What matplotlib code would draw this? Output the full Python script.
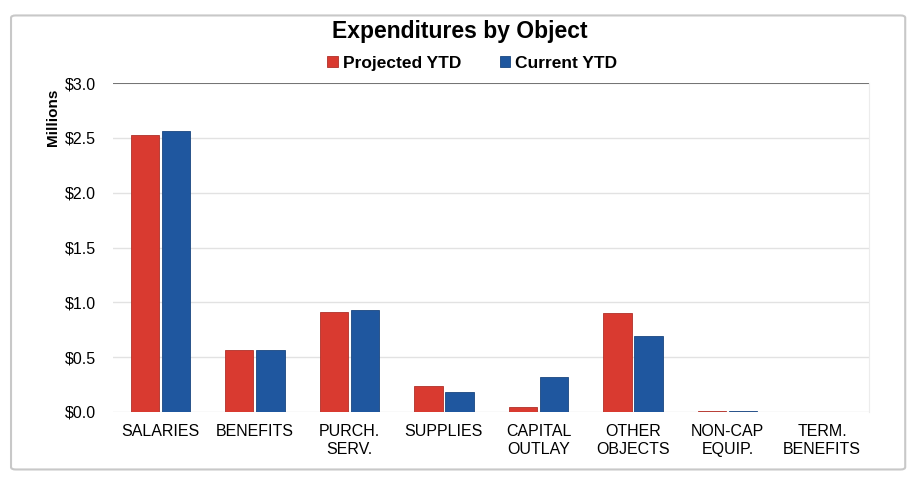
import numpy as np
import matplotlib.pyplot as plt
from matplotlib.patches import FancyBboxPatch

plt.rcParams['font.family'] = ['Liberation Sans', 'DejaVu Sans']

categories = ['SALARIES', 'BENEFITS', 'PURCH.\nSERV.', 'SUPPLIES', 'CAPITAL\nOUTLAY',
              'OTHER\nOBJECTS', 'NON-CAP\nEQUIP.', 'TERM.\nBENEFITS']
projected = [2.53, 0.565, 0.91, 0.24, 0.05, 0.90, 0.008, 0.0]
current = [2.56, 0.565, 0.93, 0.18, 0.32, 0.69, 0.006, 0.0]
yticks = [0.0, 0.5, 1.0, 1.5, 2.0, 2.5, 3.0]

red = '#d93a30'
blue = '#1f579f'

fig = plt.figure(figsize=(9.19, 4.83), dpi=100)
ax = fig.add_axes([0.123, 0.147, 0.823, 0.681])

# outer chart frame
frame = FancyBboxPatch((0.012, 0.028), 0.973, 0.94, boxstyle='round,pad=0,rounding_size=0.005',
                       transform=fig.transFigure, fill=False, edgecolor='#c8c8c8', lw=1.5)
fig.patches.append(frame)

x = np.arange(len(categories))
width = 0.3
ax.bar(x - 0.165, projected, width, color=red, edgecolor='#b03028', lw=0.6,
       label='Projected YTD', zorder=3)
ax.bar(x + 0.165, current, width, color=blue, edgecolor='#1a4680', lw=0.6,
       label='Current YTD', zorder=3)

ax.set_xlim(-0.5, len(categories) - 0.5)
ax.set_ylim(0, 3.0)
ax.set_yticks(yticks)
ax.set_yticklabels(['$%.1f' % v for v in yticks], fontsize=11.5)
ax.set_xticks(x)
ax.set_xticklabels(categories, fontsize=11.5, linespacing=1.2)
ax.tick_params(length=0)
ax.tick_params(axis='x', pad=9)
ax.tick_params(axis='y', pad=12)
ax.grid(axis='y', color='#e2e2e2', lw=1, zorder=0)
ax.axhline(3.0, color='#6a6a6a', lw=1.3, zorder=2)
for s in ['top', 'left', 'bottom']:
    ax.spines[s].set_visible(False)
ax.spines['right'].set_color('#ececec')

ax.text(-0.08, 0.895, 'Millions', transform=ax.transAxes, rotation=90,
        fontsize=11, fontweight='bold', ha='center', va='center')

fig.text(0.5, 0.935, 'Expenditures by Object', fontsize=16.5, fontweight='bold',
         ha='center', va='center')
ax.legend(loc='center', bbox_to_anchor=(0.475, 1.06), ncol=2, frameon=False,
          prop={'weight': 'bold', 'size': 12.5}, handlelength=0.6, handleheight=0.6,
          handletextpad=0.3, columnspacing=2.2)

plt.savefig('out.png', dpi=100)
